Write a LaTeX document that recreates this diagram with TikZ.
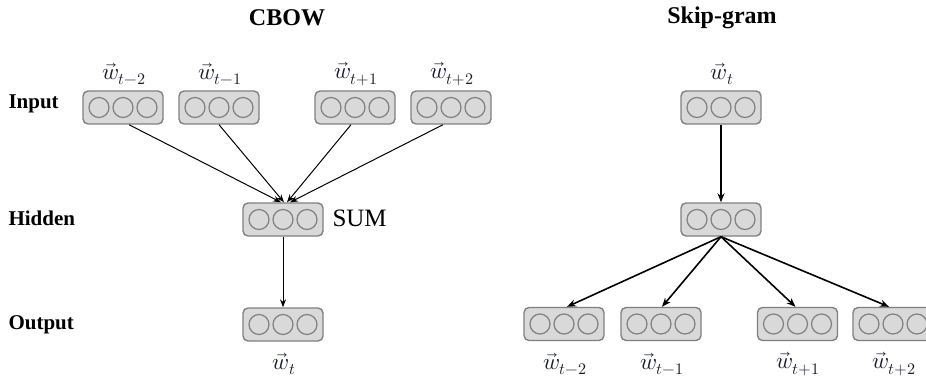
\documentclass[tikz,border=0pt]{standalone}
\usepackage{unicode-math}
\setmainfont{Liberation Serif}
\setmathfont{Latin Modern Math}
\usetikzlibrary{arrows.meta}
\definecolor{boxfill}{HTML}{D9D9D9}
\definecolor{boxdraw}{HTML}{808080}
\definecolor{labcol}{HTML}{1A1A33}
\newcommand{\vecw}[1]{$\vec{w}_{#1}$}
\begin{document}
\begin{tikzpicture}[x=1pt,y=-1pt,
  vecbox/.style={draw=boxdraw,fill=boxfill,line width=1.4pt,rounded corners=5pt,minimum width=80pt,minimum height=33pt,inner sep=0pt,
    path picture={
      \foreach \dx in {-24,0,24}{
        \draw[boxdraw,line width=1.2pt] ([xshift=\dx pt]path picture bounding box.center) circle (10pt);
      }}},
  rowlab/.style={font=\bfseries\fontsize{21}{24}\selectfont,anchor=west},
  title/.style={font=\bfseries\fontsize{24}{27}\selectfont},
  wlab/.style={font=\fontsize{23}{26}\selectfont,text=labcol},
  thinarr/.style={-{Stealth[length=8pt,width=6pt]},line width=1pt},
  thickarr/.style={-{Stealth[length=9pt,width=7pt]},line width=1.6pt}
]
\useasboundingbox (0,0) rectangle (926,377);
% titles
\node[title] (t1) at (287,18) {CBOW};
\node[title] (t2) at (722,18) {Skip-gram};
% row labels
\node[rowlab] (lin) at (5,104) {Input};
\node[rowlab] (lhid) at (5,218) {Hidden};
\node[rowlab] (lout) at (5,325) {Output};
% CBOW
\node[vecbox] (c1) at (123,107.5) {};
\node[vecbox] (c2) at (219,107.5) {};
\node[vecbox] (c3) at (355,107.5) {};
\node[vecbox] (c4) at (451,107.5) {};
\node[wlab] (lc1) at (124,74) {\vecw{t-2}};
\node[wlab] (lc2) at (220,74) {\vecw{t-1}};
\node[wlab] (lc3) at (356,74) {\vecw{t+1}};
\node[wlab] (lc4) at (452,74) {\vecw{t+2}};
\node[vecbox] (ch) at (283,219.5) {};
\node[font=\fontsize{25}{28}\selectfont,anchor=west] (sum) at (329,218) {SUM};
\node[vecbox] (co) at (283,324.5) {};
\node[wlab] (lco) at (284,364) {\vecw{t}};
\draw[thinarr] ([xshift=6pt]c1.south) -- ([xshift=-2pt]ch.north);
\draw[thinarr] ([xshift=0pt]c2.south) -- ([xshift=1pt]ch.north);
\draw[thinarr] ([xshift=-4pt]c3.south) -- ([xshift=4pt]ch.north);
\draw[thinarr] ([xshift=-8pt]c4.south) -- ([xshift=7pt]ch.north);
\draw[thinarr] (ch.south) -- (co.north);
% Skip-gram
\node[vecbox] (s0) at (721,107.5) {};
\node[wlab] (ls0) at (722,74) {\vecw{t}};
\node[vecbox] (sh) at (721,219.5) {};
\node[vecbox] (s1) at (564,324) {};
\node[vecbox] (s2) at (661,324) {};
\node[vecbox] (s3) at (797.5,324) {};
\node[vecbox] (s4) at (893,324) {};
\node[wlab] (ls1) at (565,364) {\vecw{t-2}};
\node[wlab] (ls2) at (662,364) {\vecw{t-1}};
\node[wlab] (ls3) at (798,364) {\vecw{t+1}};
\node[wlab] (ls4) at (894,364) {\vecw{t+2}};
\draw[thickarr] (s0.south) -- (sh.north);
\draw[thickarr] (sh.south) -- ([xshift=3pt]s1.north);
\draw[thickarr] (sh.south) -- ([xshift=1pt]s2.north);
\draw[thickarr] (sh.south) -- ([xshift=-2pt]s3.north);
\draw[thickarr] (sh.south) -- ([xshift=-4pt]s4.north);
\end{tikzpicture}
\end{document}
